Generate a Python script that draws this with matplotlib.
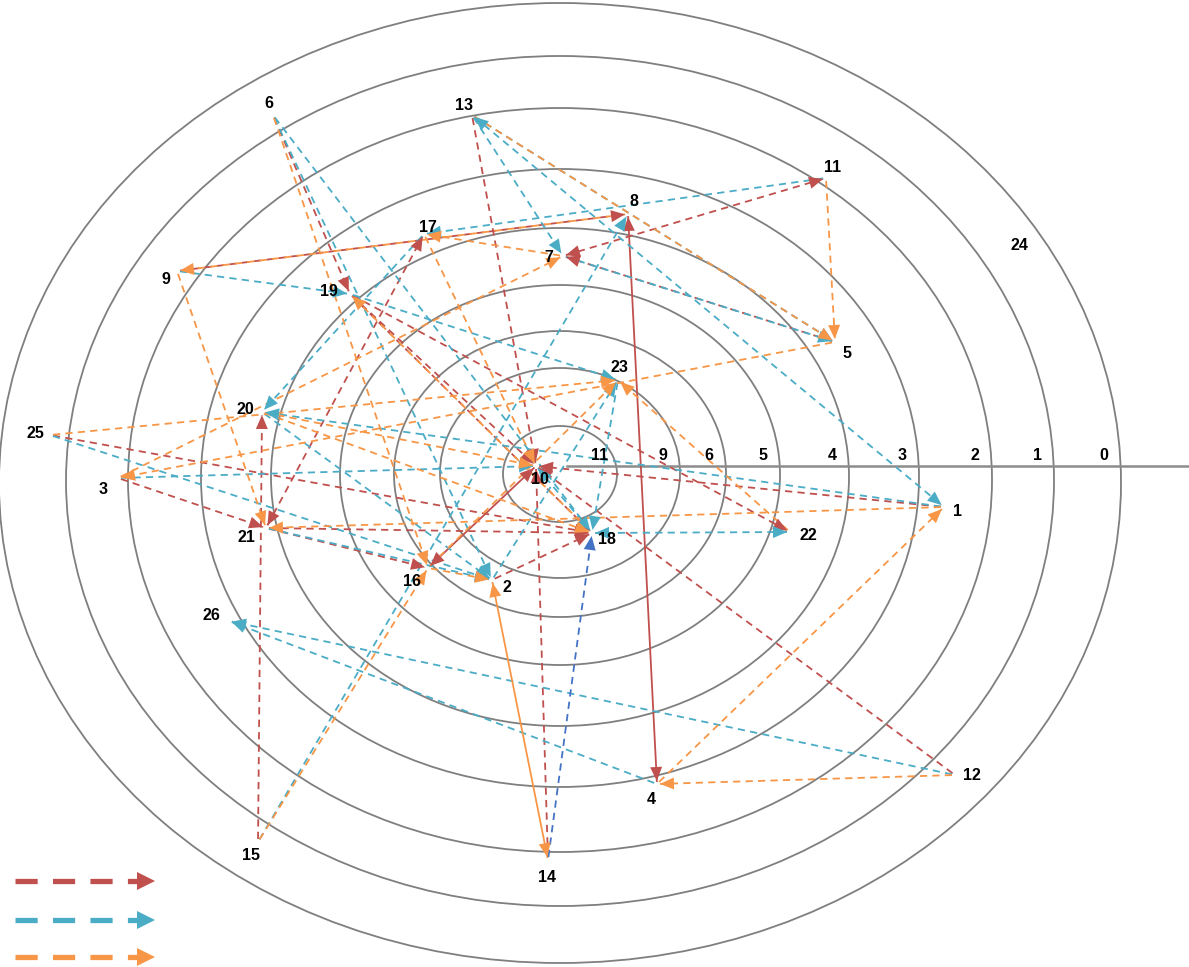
import numpy as np
import matplotlib.pyplot as plt
from matplotlib.patches import Ellipse, Polygon

plt.rcParams['font.family'] = ['Liberation Sans', 'DejaVu Sans']

# rings (pixel units of the original picture)
ring_labels = ['11', '9', '6', '5', '4', '3', '2', '1', '0']
ring_rx = [57, 120, 166, 220, 289, 359, 432, 494, 561]
ring_ry = [48, 105, 143, 190, 249, 309, 372, 425, 480]
ring_cy = [474, 473, 474, 475, 477, 478, 480, 481, 483]
ring_cx = 560

# nodes: where the arrows meet, and where the number is written
node_ids = list(range(1, 27))
anchor_x = [944, 492, 118, 657, 835, 273, 563, 628, 177, 536, 826, 955, 472,
            548, 258, 428, 424, 592, 350, 262, 266, 790, 618, 1019, 50, 229]
anchor_y = [507, 580, 478, 784, 342, 115, 256, 214, 271, 466, 178, 775, 115,
            860, 842, 568, 234, 533, 294, 412, 528, 532, 380, 245, 435, 621]
label_x = [957, 507, 103, 651, 847, 269, 549, 634, 166, 540, 833, 972, 464,
           547, 251, 412, 428, 607, 329, 245, 246, 808, 619, 1019, 35, 211]
label_y = [512, 587, 489, 800, 353, 103, 257, 202, 280, 480, 168, 775, 105,
           878, 856, 582, 228, 540, 291, 410, 538, 536, 367, 245, 433, 615]

# links (from, to)
red_edges = [(9, 8), (5, 7), (13, 10), (6, 19), (19, 10), (19, 22), (19, 18),
             (25, 18), (3, 21), (21, 16), (21, 18), (15, 20), (14, 10),
             (2, 18), (12, 10), (1, 10)]
red_two_way = [(7, 11), (21, 17)]
red_solid_two_way = [(8, 4), (16, 10)]

blue_edges = [(11, 17), (13, 5), (13, 7), (9, 19), (19, 23), (6, 2), (6, 18),
              (3, 10), (25, 2), (1, 20), (17, 20), (15, 8), (12, 26), (4, 26),
              (23, 18), (20, 2), (21, 2), (2, 23), (18, 10), (7, 5)]
blue_two_way = [(22, 18), (13, 1)]

orange_edges = [(13, 5), (11, 5), (8, 9), (3, 7), (5, 3), (25, 23), (16, 23),
                (1, 21), (12, 4), (4, 1), (15, 16), (6, 16), (9, 21), (18, 19),
                (17, 10), (20, 10), (22, 23), (16, 2), (7, 17), (20, 18)]
orange_solid_two_way = [(14, 2)]

navy_edges = [(14, 18)]

RED, BLUE, ORANGE, NAVY = '#c0504d', '#4bacc6', '#f79646', '#4472c4'

W, H = 1189, 967
fig = plt.figure(figsize=(W / 100, H / 100), dpi=100)
ax = fig.add_axes([0, 0, 1, 1])
ax.set_xlim(0, W)
ax.set_ylim(H, 0)
ax.axis('off')

for rx, ry, cy, lab in zip(ring_rx, ring_ry, ring_cy, ring_labels):
    ax.add_patch(Ellipse((ring_cx, cy), 2 * rx, 2 * ry, fill=False,
                         ec='#7f7f7f', lw=1.3, zorder=1))
    ax.text(ring_cx + rx - 17, 456, lab, fontsize=11.5, fontweight='bold',
            ha='center', va='center', zorder=6)
ax.plot([567, W], [466, 466], color='#8c8c8c', lw=1.8, zorder=1)

pos = {n: np.array([x, y], float) for n, x, y in zip(node_ids, anchor_x, anchor_y)}


def head(tip, d, color, length=14, width=12):
    d = d / np.linalg.norm(d)
    n = np.array([-d[1], d[0]])
    base = tip - d * length
    ax.add_patch(Polygon([tip, base + n * width / 2, base - n * width / 2],
                         closed=True, fc=color, ec='none', zorder=4))


def link(a, b, color, both=False, solid=False, shrink=3):
    p, q = pos[a], pos[b]
    d = (q - p) / np.linalg.norm(q - p)
    p, q = p + d * shrink, q - d * shrink
    ls = '-' if solid else (0, (4.0, 2.9))
    ax.plot([p[0], q[0]], [p[1], q[1]], color=color, lw=1.3, ls=ls, zorder=3)
    head(q, d, color)
    if both:
        head(p, -d, color)


for a, b in red_edges:
    link(a, b, RED)
for a, b in red_two_way:
    link(a, b, RED, both=True)
for a, b in red_solid_two_way:
    link(a, b, RED, both=True, solid=True)
for a, b in blue_edges:
    link(a, b, BLUE)
for a, b in blue_two_way:
    link(a, b, BLUE, both=True)
for a, b in orange_edges:
    link(a, b, ORANGE)
for a, b in orange_solid_two_way:
    link(a, b, ORANGE, both=True, solid=True)
for a, b in navy_edges:
    link(a, b, NAVY)

for n, x, y in zip(node_ids, label_x, label_y):
    ax.text(x, y, str(n), fontsize=11.5, fontweight='bold', ha='center',
            va='center', zorder=6)

# legend keys (no text)
for yk, c in zip([881, 920, 957], [RED, BLUE, ORANGE]):
    ax.plot([15, 138], [yk, yk], color=c, lw=3.8, ls=(0, (4.2, 2.9)),
            solid_capstyle='butt', dash_capstyle='butt', zorder=3)
    head(np.array([155.0, yk]), np.array([1.0, 0.0]), c, length=18, width=18)

fig.savefig('out.png', dpi=100)
